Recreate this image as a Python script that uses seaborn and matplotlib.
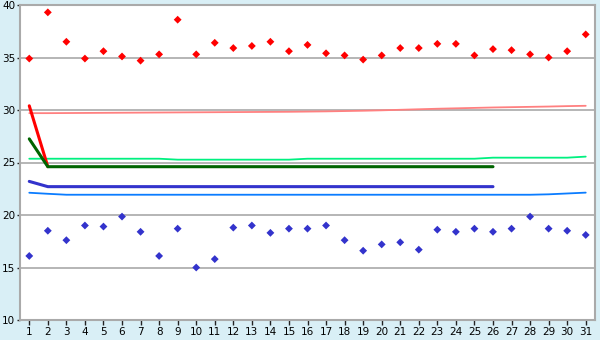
import matplotlib
matplotlib.use("Agg")
import matplotlib.pyplot as plt
import seaborn as sns
import pandas as pd

days = list(range(1, 32))
high_points = [34.9, 39.3, 36.5, 34.9, 35.6, 35.1, 34.7, 35.3, 38.6, 35.3,
               36.4, 35.9, 36.1, 36.5, 35.6, 36.2, 35.4, 35.2, 34.8, 35.2,
               35.9, 35.9, 36.3, 36.3, 35.2, 35.8, 35.7, 35.3, 35.0, 35.6, 37.2]
low_points = [16.1, 18.5, 17.6, 19.0, 18.9, 19.85, 18.4, 16.1, 18.7, 15.0,
              15.8, 18.8, 19.0, 18.3, 18.7, 18.7, 19.0, 17.6, 16.6, 17.2,
              17.4, 16.7, 18.6, 18.4, 18.7, 18.4, 18.7, 19.85, 18.7, 18.5, 18.1]
normal_high = [29.7, 29.7, 29.71, 29.72, 29.73, 29.74, 29.75, 29.76, 29.77, 29.78,
               29.79, 29.8, 29.81, 29.82, 29.83, 29.85, 29.87, 29.9, 29.93, 29.97,
               30.02, 30.07, 30.12, 30.16, 30.2, 30.24, 30.27, 30.3, 30.33, 30.37, 30.4]
normal_mid = [25.36, 25.36, 25.36, 25.36, 25.36, 25.36, 25.36, 25.36, 25.27, 25.27,
              25.27, 25.27, 25.27, 25.27, 25.27, 25.36, 25.36, 25.36, 25.36, 25.36,
              25.36, 25.36, 25.36, 25.36, 25.36, 25.46, 25.46, 25.46, 25.46, 25.46, 25.56]
normal_low = [22.12, 22.02, 21.93, 21.93, 21.93, 21.93, 21.93, 21.93, 21.93, 21.93,
              21.93, 21.93, 21.93, 21.93, 21.93, 21.93, 21.93, 21.93, 21.93, 21.93,
              21.93, 21.93, 21.93, 21.93, 21.93, 21.93, 21.93, 21.93, 21.97, 22.05, 22.13]
fc_days = list(range(1, 27))
fc_high = [30.4, 24.6]
fc_mid = [27.25] + [24.6] * 25
fc_low = [23.2, 22.7] + [22.7] * 24

sns.set_style("white")
plt.rcParams['font.family'] = ['DejaVu Sans']

fig = plt.figure(figsize=(6, 3.4), dpi=100)
fig.patch.set_facecolor('#d9eff6')
ax = fig.add_axes([20/600, 20/340, 575/600, 315/340])
ax.set_facecolor('white')

df = pd.DataFrame({'day': days, 'hi': high_points, 'lo': low_points,
                   'nh': normal_high, 'nm': normal_mid, 'nl': normal_low})
fc = pd.DataFrame({'day': fc_days, 'mid': fc_mid, 'low': fc_low})
fch = pd.DataFrame({'day': fc_days[:2], 'high': fc_high})

sns.lineplot(data=df, x='day', y='nh', ax=ax, color='#ff8080', lw=1.3, zorder=3)
sns.lineplot(data=df, x='day', y='nm', ax=ax, color='#00f080', lw=1.3, zorder=3)
sns.lineplot(data=df, x='day', y='nl', ax=ax, color='#0a7cff', lw=1.3, zorder=3)
sns.lineplot(data=fch, x='day', y='high', ax=ax, color='#ff0000', lw=2.2, zorder=4)
sns.lineplot(data=fc, x='day', y='mid', ax=ax, color='#006400', lw=2.2, zorder=5)
sns.lineplot(data=fc, x='day', y='low', ax=ax, color='#3333cc', lw=2.2, zorder=5)
sns.scatterplot(data=df, x='day', y='hi', ax=ax, color='#ff0000', marker='D', s=16,
                edgecolor='none', zorder=6)
sns.scatterplot(data=df, x='day', y='lo', ax=ax, color='#3333cc', marker='D', s=16,
                edgecolor='none', zorder=6)

ax.set_xlim(0.5, 31.5)
ax.set_ylim(10, 40)
ax.set_xticks(days)
ax.set_xticklabels([str(d) for d in days])
ax.set_yticks([10, 15, 20, 25, 30, 35, 40])
ax.set_xlabel('')
ax.set_ylabel('')
ax.yaxis.grid(True, color='#b0b0b0', lw=1.3, zorder=0)
ax.set_axisbelow(True)
for s in ax.spines.values():
    s.set_color('#aaaaaa')
    s.set_linewidth(1.5)
ax.tick_params(axis='both', which='both', width=1, color='#222222',
               labelsize=7.5, labelcolor='black', direction='out',
               bottom=True, left=True)
ax.tick_params(axis='x', length=3.5, pad=1.5)
ax.tick_params(axis='y', length=2.5, pad=0.8)
fig.savefig('out.png', dpi=100, facecolor=fig.get_facecolor())
